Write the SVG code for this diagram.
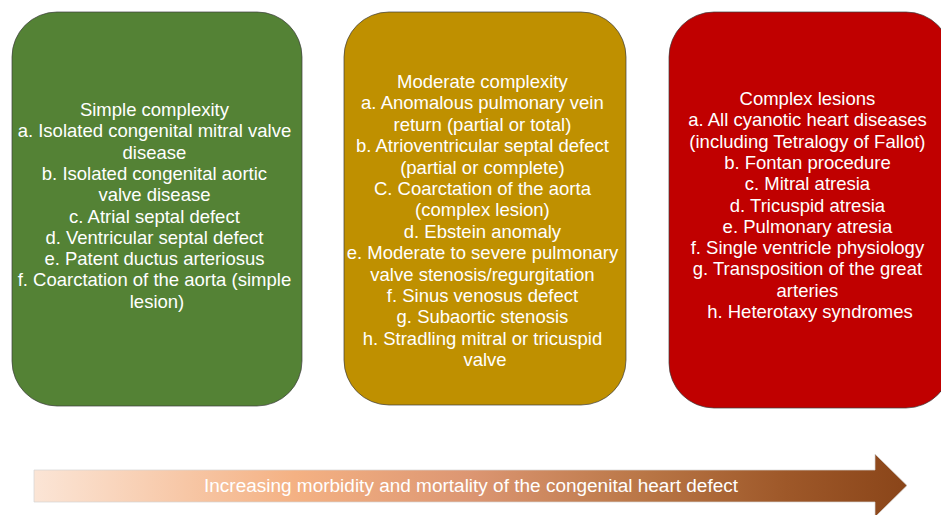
<svg xmlns="http://www.w3.org/2000/svg" width="941" height="515" viewBox="0 0 941 515">
<defs>
<linearGradient id="arrowGrad" x1="34" y1="0" x2="907" y2="0" gradientUnits="userSpaceOnUse">
<stop offset="0" stop-color="#FBE5D6"/>
<stop offset="0.3" stop-color="#F4B183"/>
<stop offset="0.5" stop-color="#DC9672"/>
<stop offset="0.7" stop-color="#B97646"/>
<stop offset="0.86" stop-color="#9E5829"/>
<stop offset="1" stop-color="#8A4519"/>
</linearGradient>
<style>
.box { stroke: #3c3c3c; stroke-opacity: 0.7; stroke-width: 1; }
.lbl { font-family: "Liberation Sans", Arial, Helvetica, sans-serif; font-size: 18.5px; fill: #ffffff; text-anchor: middle; }
.arrowtxt { font-family: "Liberation Sans", Arial, Helvetica, sans-serif; font-size: 18px; fill: #ffffff; }
</style>
</defs>
<rect width="941" height="515" fill="#ffffff"/>

<g id="node-simple">
<rect class="box" x="12" y="12" width="290" height="394" rx="45" ry="45" fill="#548235"/>
<text class="lbl">
<tspan x="157" y="116">Simple complexity</tspan>
<tspan x="157" y="137.3">a. Isolated congenital mitral valve</tspan>
<tspan x="157" y="158.6">disease</tspan>
<tspan x="157" y="179.9">b. Isolated congenital aortic</tspan>
<tspan x="157" y="201.2">valve disease</tspan>
<tspan x="157" y="222.5">c. Atrial septal defect</tspan>
<tspan x="157" y="243.8">d. Ventricular septal defect</tspan>
<tspan x="157" y="265.1">e. Patent ductus arteriosus</tspan>
<tspan x="157" y="286.4">f. Coarctation of the aorta (simple</tspan>
<tspan x="157" y="307.7">lesion)</tspan>
</text>
</g>

<g id="node-moderate">
<rect class="box" x="344" y="12" width="282" height="393" rx="45" ry="45" fill="#BF9000"/>
<text class="lbl">
<tspan x="485" y="88">Moderate complexity</tspan>
<tspan x="485" y="109.4">a. Anomalous pulmonary vein</tspan>
<tspan x="485" y="130.8">return (partial or total)</tspan>
<tspan x="485" y="152.2">b. Atrioventricular septal defect</tspan>
<tspan x="485" y="173.6">(partial or complete)</tspan>
<tspan x="485" y="195">C. Coarctation of the aorta</tspan>
<tspan x="485" y="216.4">(complex lesion)</tspan>
<tspan x="485" y="237.8">d. Ebstein anomaly</tspan>
<tspan x="485" y="259.2">e. Moderate to severe pulmonary</tspan>
<tspan x="485" y="280.6">valve stenosis/regurgitation</tspan>
<tspan x="485" y="302">f. Sinus venosus defect</tspan>
<tspan x="485" y="323.4">g. Subaortic stenosis</tspan>
<tspan x="485" y="344.8">h. Stradling mitral or tricuspid</tspan>
<tspan x="485" y="366.2">valve</tspan>
</text>
</g>

<g id="node-complex">
<rect class="box" x="669" y="12" width="282" height="396" rx="45" ry="45" fill="#C00000"/>
<text class="lbl">
<tspan x="810" y="105">Complex lesions</tspan>
<tspan x="810" y="126.3">a. All cyanotic heart diseases</tspan>
<tspan x="810" y="147.6">(including Tetralogy of Fallot)</tspan>
<tspan x="810" y="168.9">b. Fontan procedure</tspan>
<tspan x="810" y="190.2">c. Mitral atresia</tspan>
<tspan x="810" y="211.5">d. Tricuspid atresia</tspan>
<tspan x="810" y="232.8">e. Pulmonary atresia</tspan>
<tspan x="810" y="254.1">f. Single ventricle physiology</tspan>
<tspan x="810" y="275.4">g. Transposition of the great</tspan>
<tspan x="810" y="296.7">arteries</tspan>
<tspan x="810" y="318">h. Heterotaxy syndromes</tspan>
</text>
</g>

<g id="connectors">
<g id="arrow-morbidity">
<polygon points="34,470 875,470 875,454 907,485.5 875,517 875,502 34,502" fill="url(#arrowGrad)" stroke="#d4d4d4" stroke-opacity="0.7" stroke-width="1"/>
<text class="arrowtxt" x="204" y="492" textLength="534" lengthAdjust="spacingAndGlyphs">Increasing morbidity and mortality of the congenital heart defect</text>
</g>
</g>
</svg>
